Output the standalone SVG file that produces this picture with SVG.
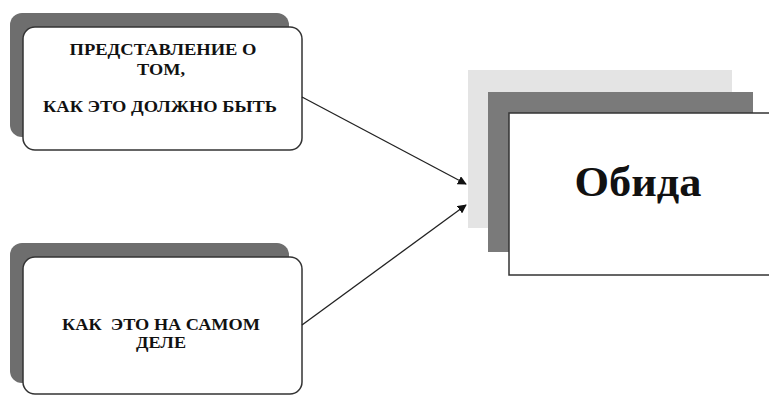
<svg xmlns="http://www.w3.org/2000/svg" width="769" height="396" viewBox="0 0 769 396">
<style>
.shadow{fill:#6e6e6e}
.box{fill:#fff;stroke:#333;stroke-width:1.5}
.t{font-family:"Liberation Serif","Times New Roman",serif;font-weight:bold;fill:#111;text-anchor:middle;white-space:pre}
.s{font-size:17px}
.conn{stroke:#222;stroke-width:1.3;fill:none}
</style>
<defs>
<marker id="arr" viewBox="0 0 10 10" refX="9" refY="5" markerWidth="9" markerHeight="9" markerUnits="userSpaceOnUse" orient="auto">
<path d="M0,0 L10,5 L0,10 z" fill="#111"/>
</marker>
</defs>
<rect width="769" height="396" fill="#fff"/>
<g id="node-top">
<rect class="shadow" x="10" y="13" width="279" height="124" rx="12"/>
<rect class="box" x="23" y="27" width="279" height="123" rx="12"/>
<text class="t s" x="163" y="55" textLength="187" lengthAdjust="spacingAndGlyphs">ПРЕДСТАВЛЕНИЕ О</text>
<text class="t s" x="161" y="75" textLength="48" lengthAdjust="spacingAndGlyphs">ТОМ,</text>
<text class="t s" x="160" y="112" textLength="234" lengthAdjust="spacingAndGlyphs">КАК ЭТО ДОЛЖНО БЫТЬ</text>
</g>
<g id="node-bottom">
<rect class="shadow" x="10" y="243" width="279" height="140" rx="12"/>
<rect class="box" x="23" y="257" width="279" height="137" rx="12"/>
<text class="t s" x="161" y="330" textLength="198" lengthAdjust="spacingAndGlyphs" xml:space="preserve">КАК  ЭТО НА САМОМ</text>
<text class="t s" x="161" y="348" textLength="50" lengthAdjust="spacingAndGlyphs">ДЕЛЕ</text>
</g>
<g id="node-obida">
<rect x="468" y="70" width="264" height="158" fill="#e4e4e4"/>
<rect x="488" y="92" width="265" height="160" fill="#7a7a7a"/>
<rect x="509" y="113" width="262" height="162" fill="#fff" stroke="#333" stroke-width="1.5"/>
<text class="t" x="638" y="196" font-size="42" textLength="127" lengthAdjust="spacingAndGlyphs">Обида</text>
</g>
<g id="connectors">
<line class="conn" x1="302" y1="97" x2="466" y2="184" marker-end="url(#arr)"/>
<line class="conn" x1="302" y1="325" x2="466" y2="205" marker-end="url(#arr)"/>
</g>
</svg>
